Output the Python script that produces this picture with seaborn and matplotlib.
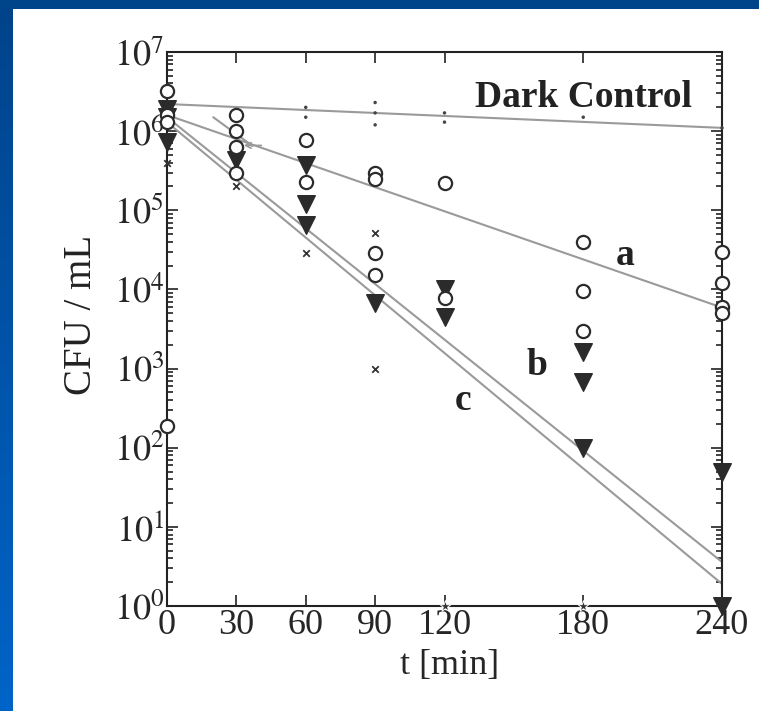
import numpy as np
import pandas as pd
import matplotlib
matplotlib.use("Agg")
import matplotlib.pyplot as plt
import matplotlib.ticker as mticker
import seaborn as sns

# data (t in min, CFU/mL)
circle_t = [0, 0, 0, 0, 30, 30, 30, 30, 60, 60, 90, 90, 90, 90,
            120, 120, 180, 180, 180, 240, 240, 240, 240]
circle_v = [3.2e6, 1.6e6, 1.3e6, 1.9e2, 1.6e6, 1.0e6, 6.3e5, 3.0e5, 7.8e5, 2.3e5,
            3.0e5, 2.5e5, 2.9e4, 1.5e4, 2.2e5, 7.8e3, 4.0e4, 9.5e3, 3.0e3,
            3.0e4, 1.2e4, 6.0e3, 5.1e3]

tri_t = [0, 0, 0, 30, 60, 60, 60, 90, 120, 120, 180, 180, 180, 240, 240]
tri_v = [1.9e6, 1.5e6, 7.3e5, 4.3e5, 3.7e5, 1.2e5, 6.5e4, 6.8e3, 1.0e4, 4.5e3,
         1.6e3, 6.8e2, 1.0e2, 49, 1.0]

cross_t = [0, 30, 60, 90, 90]
cross_v = [4.0e5, 2.0e5, 2.9e4, 5.2e4, 1.0e3]

dark_t = [0, 60, 60, 90, 90, 90, 120, 120, 180, 240]
dark_v = [3.8e6, 2.0e6, 1.5e6, 2.3e6, 1.7e6, 1.2e6, 1.7e6, 1.3e6, 1.5e6, 1.1e6]

star_t = [120, 180]
star_v = [1.0, 1.0]

# fitted lines
fit_t = [0, 240]
fit_dark = [2.2e6, 1.1e6]
fit_a = [1.6e6, 5.9e3]
fit_b = [1.5e6, 3.6]
fit_c = [1.3e6, 1.9]
short_t = [20, 37]
short_v = [1.5e6, 6.5e5]

x_ticks = [0, 30, 60, 90, 120, 180, 240]

sns.set_style("ticks")
plt.rcParams['font.family'] = ['Liberation Serif', 'DejaVu Serif']
plt.rcParams['mathtext.fontset'] = 'stix'

fig = plt.figure(figsize=(7.59, 7.11), dpi=100)
fig.patch.set_facecolor('white')

# slide frame: blue gradient strip on the left, dark band on top
left = fig.add_axes([0, 0, 13 / 759, 1])
grad = np.linspace(0, 1, 256).reshape(-1, 1)
cmap = matplotlib.colors.LinearSegmentedColormap.from_list('frame', ['#00438a', '#0064c8'])
left.imshow(grad, aspect='auto', cmap=cmap, extent=[0, 1, 0, 1], origin='upper')
left.axis('off')
top = fig.add_axes([0, 1 - 9 / 711, 1, 9 / 711])
top.set_facecolor('#00448a')
top.set_xticks([])
top.set_yticks([])
for s in top.spines.values():
    s.set_visible(False)

ax = fig.add_axes([167 / 759, 1 - 606 / 711, 555 / 759, 554 / 711])
ax.set_yscale('log')

line_kw = dict(color='#9a9a9a', linewidth=1.5, legend=False)
for vals in [fit_dark, fit_a, fit_b, fit_c]:
    sns.lineplot(x=fit_t, y=vals, ax=ax, **line_kw)
sns.lineplot(x=short_t, y=short_v, ax=ax, **line_kw)
ax.annotate('', xy=(32, 6.6e5), xytext=(42, 6.6e5),
            arrowprops=dict(arrowstyle='->', color='#9a9a9a', lw=1.2))

sns.scatterplot(x=dark_t, y=dark_v, ax=ax, marker='.', s=25, color='#444444',
                edgecolor='none', clip_on=False, zorder=3)
sns.scatterplot(x=cross_t, y=cross_v, ax=ax, marker='x', s=22, color='#333333',
                linewidth=1.3, clip_on=False, zorder=3)
sns.scatterplot(x=tri_t, y=tri_v, ax=ax, marker='v', s=160, color='#2b2b2b',
                edgecolor='#2b2b2b', clip_on=False, zorder=4)
sns.scatterplot(x=circle_t, y=circle_v, ax=ax, marker='o', s=90, facecolor='white',
                edgecolor='#2b2b2b', linewidth=1.6, clip_on=False, zorder=5)
sns.scatterplot(x=star_t, y=star_v, ax=ax, marker='*', s=70, color='#333333',
                clip_on=False, zorder=5)

ax.set_xlim(0, 240)
ax.set_ylim(1, 1e7)
ax.set_xticks(x_ticks)
ax.set_xticklabels([str(t) for t in x_ticks])
ax.yaxis.set_major_locator(mticker.LogLocator(base=10, numticks=10))
ax.yaxis.set_minor_locator(mticker.LogLocator(base=10, subs=np.arange(2, 10), numticks=20))
ax.yaxis.set_major_formatter(mticker.FuncFormatter(lambda v, p: r'$10^{%d}$' % round(np.log10(v))))
ax.yaxis.set_minor_formatter(mticker.NullFormatter())
ax.tick_params(which='both', direction='in', top=True, right=True, labelsize=26,
               color='#222222', width=1.2)
ax.tick_params(which='major', length=8, pad=2)
ax.tick_params(which='minor', length=4)
for s in ax.spines.values():
    s.set_linewidth(1.5)
    s.set_color('#222222')
    s.set_visible(True)

ax.set_xlabel('t [min]', fontsize=26)
ax.set_ylabel('CFU / mL', fontsize=28, color='#222222')
ax.xaxis.set_label_coords(0.51, -0.078)
ax.yaxis.set_label_coords(-0.12, 0.525)

text_kw = dict(fontsize=27, fontweight='bold', color='#222222', ha='center', va='center')
ax.text(180, 2.7e6, 'Dark Control', **text_kw)
ax.text(198, 2.7e4, 'a', **text_kw)
ax.text(160, 1.1e3, 'b', **text_kw)
ax.text(128, 4.0e2, 'c', **text_kw)

fig.savefig('out.png', dpi=100, facecolor='white')
